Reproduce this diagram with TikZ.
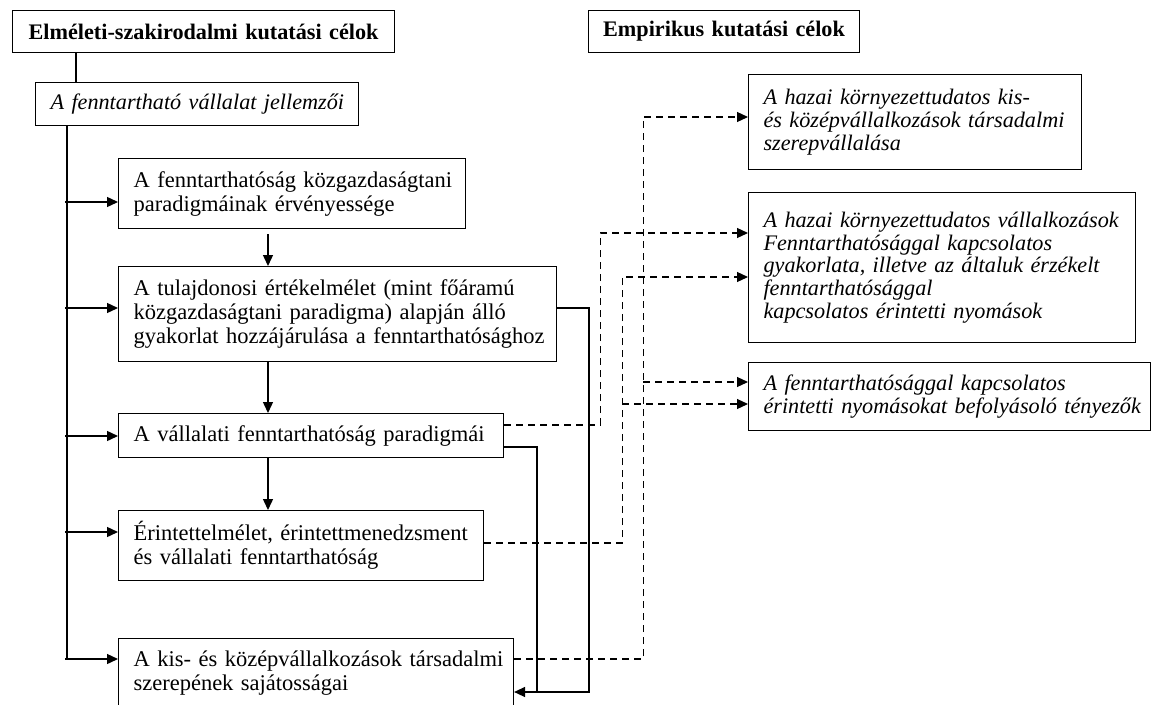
\documentclass[tikz,border=0pt]{standalone}
\usepackage{fontspec}
\setmainfont{Liberation Serif}
\usetikzlibrary{arrows.meta}
\newcommand{\betu}{\fontsize{22.5}{24}\selectfont}
\newcommand{\kisbetu}{\fontsize{22.2}{22.8}\selectfont}

\begin{document}
\begin{tikzpicture}[x=1pt, y=-1pt]
    \tikzstyle{keret} = [draw, line width=1.1pt, anchor=north west, inner xsep=0pt, inner ysep=0pt, font=\betu]
    \tikzstyle{doboz} = [keret, align=left, execute at begin node={\leftskip=15pt}]
    \tikzstyle{dolt} = [doboz, font=\kisbetu\itshape]
    \tikzstyle{cim} = [keret, align=center, font=\kisbetu\bfseries]
    \tikzstyle{vonal} = [line width=1.4pt]
    \tikzstyle{nyil} = [vonal, -{Triangle[length=11pt, width=10pt]}]
    \tikzstyle{szagg} = [nyil, line width=1.2pt, dash pattern=on 7pt off 5pt]
    \useasboundingbox (0,0) rectangle (1151,704);

    \node[cim, text width=382pt, minimum height=42pt] (elm) at (12,10) {Elméleti-szakirodalmi kutatási célok};
    \node[cim, text width=271pt, minimum height=42pt] (emp) at (588,10) {Empirikus kutatási célok};
    \node[dolt, text width=323pt, minimum height=43pt] (jell) at (35,82) {A fenntartható vállalat jellemzői};

    \node[doboz, text width=347pt, minimum height=70pt] (paradig) at (118,158)
      {A fenntarthatóság közgazdaságtani\\ paradigmáinak érvényessége};
    \node[doboz, text width=438pt, minimum height=95pt] (tulaj) at (118,266)
      {A tulajdonosi értékelmélet (mint főáramú\\ közgazdaságtani paradigma) alapján álló\\ gyakorlat hozzájárulása a fenntarthatósághoz};
    \node[doboz, text width=385pt, minimum height=44pt] (valp) at (118,413)
      {A vállalati fenntarthatóság paradigmái};
    \node[doboz, text width=365pt, minimum height=70pt] (erint) at (118,510)
      {Érintettelmélet, érintettmenedzsment\\ és vállalati fenntarthatóság};
    \node[doboz, text width=395pt, minimum height=70pt] (kkv) at (118,638)
      {A kis- és középvállalkozások társadalmi\\ szerepének sajátosságai};

    \node[dolt, text width=333pt, minimum height=95pt] (hkkv) at (748,74)
      {A hazai környezettudatos kis-\\ és középvállalkozások társadalmi\\ szerepvállalása};
    \node[dolt, text width=387pt, minimum height=150pt] (hvall) at (748,192)
      {A hazai környezettudatos vállalkozások\\ Fenntarthatósággal kapcsolatos\\ gyakorlata, illetve az általuk érzékelt\\ fenntarthatósággal\\ kapcsolatos érintetti nyomások};
    \node[dolt, text width=402pt, minimum height=68pt] (nyom) at (748,362)
      {A fenntarthatósággal kapcsolatos\\ érintetti nyomásokat befolyásoló tényezők};

    \draw[line width=1.1pt] ([xshift=64pt]elm.south west) -- ([xshift=64pt]elm.south west |- jell.north);

    \coordinate (gerinc) at ([xshift=32pt]jell.south west);
    \coordinate (be1) at ([yshift=-44pt]paradig.north west);
    \coordinate (be2) at ([yshift=-42pt]tulaj.north west);
    \coordinate (be3) at ([yshift=-23pt]valp.north west);
    \coordinate (be4) at ([yshift=-22pt]erint.north west);
    \coordinate (be5) at ([yshift=-21pt]kkv.north west);
    \draw[vonal] (gerinc) -- (gerinc |- be5);
    \foreach \c in {be1,be2,be3,be4,be5}
      \draw[nyil] ([xshift=-2pt]gerinc |- \c) -- (\c);

    \draw[nyil] ([xshift=150pt, yshift=-5pt]paradig.south west) -- ([xshift=150pt]tulaj.north west);
    \draw[nyil] ([xshift=150pt]tulaj.south west) -- ([xshift=150pt]valp.north west);
    \draw[nyil] ([xshift=150pt]valp.south west) -- ([xshift=150pt]erint.north west);

    \coordinate (ki2) at ([yshift=-42pt]tulaj.north east);
    \coordinate (ki3) at ([yshift=-34pt]valp.north east);
    \coordinate (vissza) at ([yshift=-54pt]kkv.north east);
    \draw[nyil] (ki2) -- ++(32,0) |- (vissza);
    \draw[vonal] (ki3) -| ([xshift=23pt]vissza);

    \coordinate (sz3) at ([yshift=-12pt]valp.north east);
    \coordinate (sz4) at ([yshift=-33pt]erint.north east);
    \coordinate (sz5) at ([yshift=-21pt]kkv.north east);
    \coordinate (h1) at ([yshift=-43pt]hkkv.north west);
    \coordinate (h2a) at ([yshift=-41pt]hvall.north west);
    \coordinate (h2b) at ([yshift=-85pt]hvall.north west);
    \coordinate (ny1) at ([yshift=-20pt]nyom.north west);
    \coordinate (ny2) at ([yshift=-42pt]nyom.north west);
    \draw[szagg] (sz3) -- ++(96,0) |- (h2a);
    \draw[szagg] (sz4) -- ++(138,0) coordinate (v4) |- (h2b);
    \draw[szagg] (v4 |- ny2) -- (ny2);
    \draw[szagg] (sz5) -- ++(129,0) coordinate (v5) |- (h1);
    \draw[szagg] (v5 |- ny1) -- (ny1);
\end{tikzpicture}
\end{document}
